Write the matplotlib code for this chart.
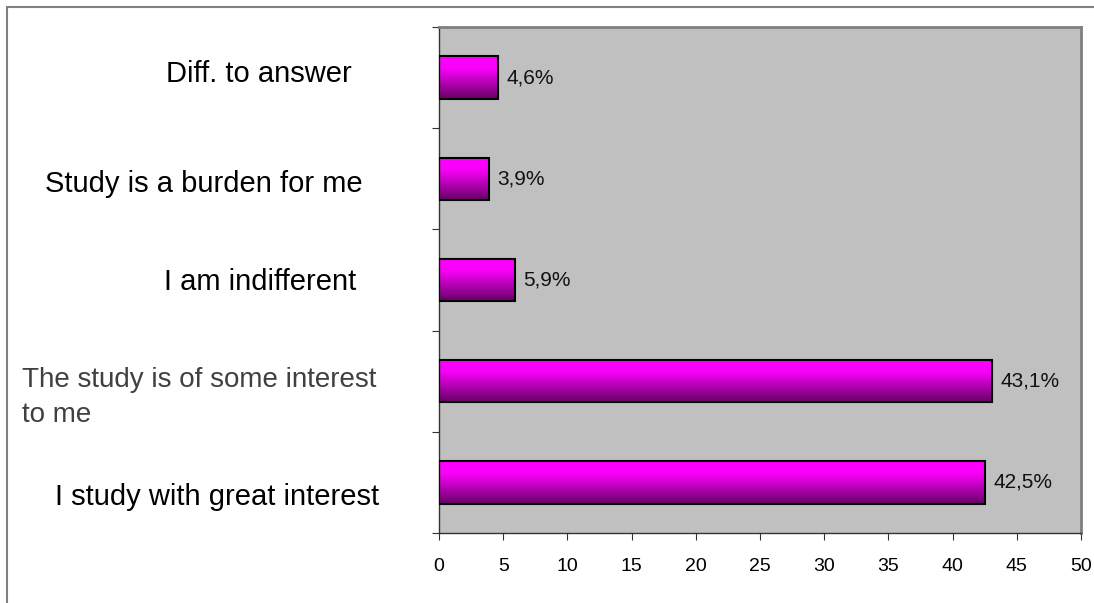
import numpy as np
import matplotlib
matplotlib.use("Agg")
import matplotlib.pyplot as plt
from matplotlib.colors import LinearSegmentedColormap
from matplotlib.patches import Rectangle

plt.rcParams['font.family'] = ['Liberation Sans', 'DejaVu Sans']

# data, bottom to top
categories = ["I study with great interest",
              "The study is of some interest\nto me",
              "I am indifferent",
              "Study is a burden for me",
              "Diff. to answer"]
values = [42.5, 43.1, 5.9, 3.9, 4.6]
xticks = [0, 5, 10, 15, 20, 25, 30, 35, 40, 45, 50]

W, H = 1094, 603
fig = plt.figure(figsize=(W / 100, H / 100), dpi=100)
ax = fig.add_axes([439 / W, 1 - 533 / H, (1081 - 439) / W, (533 - 27) / H])
ax.set_facecolor("#C0C0C0")

pos = np.arange(len(categories))
bars = ax.barh(pos, values, height=0.42, facecolor="none",
               edgecolor="black", linewidth=1.5, zorder=3)

# vertical magenta -> purple gradient inside each bar
cmap = LinearSegmentedColormap.from_list(
    "mag", [(0, "#FF00FF"), (0.3, "#F800F8"), (1, "#660066")])
grad = np.linspace(0, 1, 100).reshape(-1, 1)
for b in bars:
    x0, y0, w, h = b.get_x(), b.get_y(), b.get_width(), b.get_height()
    im = ax.imshow(grad, extent=[x0, x0 + w, y0, y0 + h], aspect="auto",
                   cmap=cmap, origin="upper", zorder=2)
    im.set_clip_path(b)

for i, v in enumerate(values):
    ax.annotate(f"{v:.1f}".replace(".", ",") + "%", xy=(v, i),
                xytext=(6, 0), textcoords="offset points",
                va="center", ha="left", fontsize=15, color="#111111")

ax.set_xlim(0, 50)
ax.set_ylim(-0.5, len(categories) - 0.5)
ax.set_xticks(xticks)
ax.set_xticklabels([str(t) for t in xticks], fontsize=14)
ax.set_yticks(np.arange(len(categories) + 1) - 0.5)
ax.set_yticklabels([])
ax.tick_params(axis="x", direction="out", length=5, pad=13, color="#333333")
ax.tick_params(axis="y", direction="out", length=5, color="#333333")

for s in ["top", "right"]:
    ax.spines[s].set_color("#808080")
    ax.spines[s].set_linewidth(2)
for s in ["left", "bottom"]:
    ax.spines[s].set_color("#333333")
    ax.spines[s].set_linewidth(1)

# category labels placed like the original (pixel x, baseline y)
label_pos = [(217, 505, "center", "black"),
             (22, 387, "left", "#404040"),
             (260, 290, "center", "black"),
             (204, 192, "center", "black"),
             (259, 82, "center", "black")]
for cat, (px, py, ha, col) in zip(categories, label_pos):
    first = cat.split("\n")[0]
    fig.text(px / W, 1 - py / H, first, ha=ha, va="baseline",
             fontsize=21 if ha == "center" else 20, color=col)
    if "\n" in cat:
        fig.text(px / W, 1 - (py + 35) / H, cat.split("\n")[1], ha=ha,
                 va="baseline", fontsize=20, color=col)

# outer chart border
fig.patches.append(Rectangle((7 / W, -0.1), 1.2, 1 - 7 / H + 0.1,
                             transform=fig.transFigure, fill=False,
                             edgecolor="#808080", linewidth=1.5))

fig.savefig("out.png", dpi=100)
